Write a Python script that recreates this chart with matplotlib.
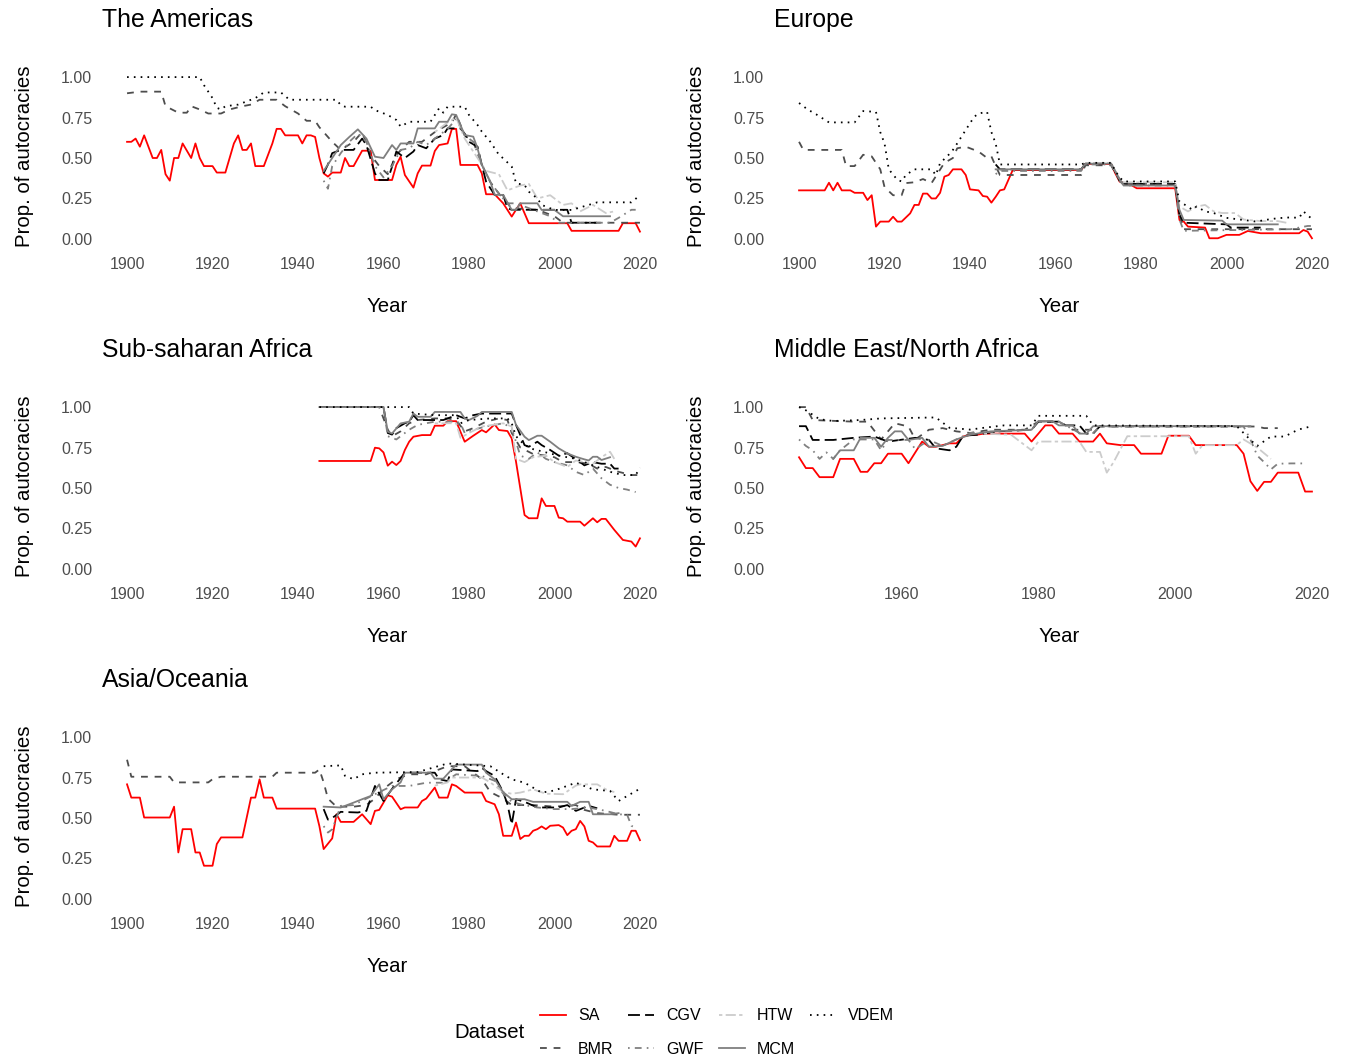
import matplotlib
matplotlib.use("Agg")
import matplotlib.pyplot as plt
from matplotlib.lines import Line2D

plt.rcParams['font.family'] = ['Liberation Sans', 'DejaVu Sans']
plt.rcParams['lines.scale_dashes'] = False

# ---------------- The Americas ----------------
am_sa_x = [1900, 1901, 1902, 1903, 1904, 1905, 1906, 1907, 1908, 1909, 1910, 1911, 1912, 1913, 1915, 1916, 1917, 1918,
           1920, 1921, 1923, 1925, 1926, 1927, 1928, 1929, 1930, 1932, 1934, 1935, 1936, 1937, 1940, 1941, 1942, 1943,
           1944, 1945, 1946, 1947, 1948, 1950, 1951, 1952, 1953, 1955, 1957, 1958, 1962, 1963, 1964, 1965, 1967, 1968,
           1969, 1971, 1972, 1973, 1975, 1976, 1977, 1978, 1982, 1983, 1984, 1986, 1988, 1990, 1991, 1992, 1994, 2003,
           2004, 2015, 2016, 2019, 2020]
am_sa_y = [.60, .60, .62, .57, .64, .57, .50, .50, .55, .40, .36, .50, .50, .59, .50, .59, .50, .45,
           .45, .41, .41, .59, .64, .55, .55, .59, .45, .45, .59, .68, .68, .64, .64, .59, .64, .64,
           .63, .50, .405, .385, .41, .41, .50, .45, .45, .545, .545, .364, .364, .457, .508, .395, .317, .405,
           .453, .453, .543, .58, .59, .68, .68, .457, .457, .405, .276, .276, .22, .138, .18, .22, .097, .097,
           .05, .05, .097, .097, .045]
am_bmr_x = [1900, 1903, 1908, 1909, 1912, 1914, 1915, 1917, 1919, 1922, 1924, 1927, 1929, 1931, 1935, 1937, 1940, 1942,
            1944, 1945, 1947, 1948, 1950, 1953, 1955, 1957, 1959, 1961, 1963, 1966, 1969, 1972, 1976, 1977, 1979,
            1981, 1983, 1985, 1987, 1990, 1996, 2000, 2002, 2020]
am_bmr_y = [.90, .91, .91, .82, .78, .78, .82, .80, .775, .775, .80, .82, .83, .86, .86, .82, .775, .73,
            .73, .69, .63, .60, .55, .60, .66, .52, .45, .40, .52, .60, .60, .66, .72, .77, .64,
            .60, .46, .35, .28, .19, .18, .14, .10, .10]
am_cgv_x = [1946, 1947, 1948, 1950, 1953, 1955, 1956, 1958, 1959, 1961, 1962, 1963, 1965, 1967, 1968, 1970, 1972, 1974,
            1975, 1978, 1979, 1980, 1982, 1983, 1984, 1986, 1988, 1989, 1990, 2003, 2004, 2010]
am_cgv_y = [.405, .46, .53, .55, .55, .62, .58, .405, .364, .364, .447, .54, .50, .54, .58, .56, .62, .642,
            .683, .683, .65, .60, .57, .457, .354, .272, .272, .19, .18, .18, .10, .10]
am_gwf_x = [1946, 1947, 1948, 1950, 1952, 1954, 1956, 1958, 1960, 1962, 1964, 1966, 1968, 1970, 1972, 1975, 1977, 1979,
            1981, 1983, 1985, 1987, 1989, 1991, 1995, 1999, 2001, 2013, 2015, 2018, 2019]
am_gwf_y = [.36, .31, .45, .53, .60, .65, .60, .45, .38, .45, .55, .56, .60, .58, .62, .68, .74, .64,
            .60, .46, .35, .28, .22, .22, .18, .14, .10, .10, .13, .18, .18]
am_htw_x = [1972, 1975, 1977, 1979, 1982, 1984, 1987, 1989, 1992, 1994, 1996, 1999, 2002, 2004, 2006, 2009, 2012, 2014]
am_htw_y = [.66, .72, .75, .62, .50, .42, .40, .30, .33, .34, .25, .27, .21, .22, .17, .21, .16, .17]
am_mcm_x = [1946, 1948, 1950, 1952, 1954, 1956, 1958, 1960, 1962, 1963, 1964, 1967, 1968, 1972, 1973, 1975, 1976, 1977,
            1979, 1981, 1982, 1983, 1985, 1986, 1988, 1990, 1991, 1992, 1996, 1997, 2000, 2002, 2013]
am_mcm_y = [.42, .50, .58, .63, .677, .62, .508, .50, .58, .55, .59, .59, .683, .683, .724, .724, .77, .766,
            .642, .632, .56, .457, .354, .272, .272, .179, .179, .22, .22, .179, .179, .14, .14]
am_vdem_x = [1900, 1917, 1918, 1920, 1921, 1922, 1923, 1926, 1930, 1932, 1936, 1938, 1949, 1950, 1951, 1957, 1958, 1961,
             1963, 1964, 1966, 1971, 1973, 1974, 1975, 1979, 1980, 1982, 1983, 1985, 1987, 1988, 1990, 1991, 1993,
             1994, 1996, 1997, 2000, 2004, 2008, 2010, 2018, 2020]
am_vdem_y = [1.0, 1.0, .95, .87, .81, .80, .82, .83, .87, .905, .905, .86, .86, .827, .817, .817, .796, .766,
             .735, .694, .724, .724, .807, .78, .817, .817, .766, .704, .663, .60, .52, .498, .447, .344, .333,
             .292, .25, .21, .179, .179, .21, .226, .226, .27]

# ---------------- Europe ----------------
eu_sa_x = [1900, 1906, 1907, 1908, 1909, 1910, 1912, 1913, 1915, 1916, 1917, 1918, 1919, 1921, 1922, 1923, 1924, 1926,
           1927, 1928, 1929, 1930, 1931, 1932, 1933, 1934, 1935, 1936, 1938, 1939, 1940, 1942, 1943, 1944, 1945, 1946,
           1947, 1948, 1950, 1966, 1967, 1973, 1974, 1975, 1976, 1977, 1979, 1988, 1989, 1990, 1991, 1995, 1996, 1998,
           2000, 2003, 2005, 2008, 2017, 2018, 2019, 2020]
eu_sa_y = [.30, .30, .347, .30, .347, .30, .30, .285, .285, .24, .27, .076, .107, .107, .137, .107, .107, .158,
           .21, .21, .28, .28, .25, .25, .285, .385, .395, .43, .43, .395, .306, .30, .265, .261, .224, .26,
           .30, .306, .426, .426, .463, .463, .405, .354, .344, .344, .313, .313, .117, .107, .076, .07, .004, .004,
           .025, .025, .049, .035, .035, .055, .045, .004]
eu_bmr_x = [1900, 1901, 1910, 1911, 1913, 1915, 1917, 1919, 1920, 1922, 1924, 1925, 1927, 1929, 1931, 1934, 1936, 1937,
            1939, 1942, 1944, 1945, 1946, 1947, 1966, 1967, 1973, 1975, 1976, 1988, 1989, 1990, 2020]
eu_bmr_y = [.60, .55, .55, .45, .45, .52, .51, .43, .32, .27, .27, .345, .35, .37, .345, .47, .50, .56,
            .57, .54, .50, .51, .45, .395, .395, .455, .455, .36, .34, .34, .15, .06, .06]
eu_cgv_x = [1946, 1947, 1966, 1967, 1973, 1975, 1976, 1988, 1989, 1990, 2000, 2001, 2008]
eu_cgv_y = [.46, .43, .43, .465, .465, .36, .34, .34, .15, .10, .09, .07, .07]
eu_gwf_x = [1946, 1947, 1966, 1967, 1973, 1975, 1976, 1988, 1989, 1990, 2015, 2019, 2020]
eu_gwf_y = [.40, .42, .42, .46, .46, .36, .33, .33, .12, .05, .06, .08, .08]
eu_htw_x = [1972, 1973, 1975, 1976, 1988, 1989, 1991, 1993, 1995, 1997, 1999, 2002, 2004, 2008, 2012, 2014]
eu_htw_y = [.47, .47, .37, .35, .35, .20, .17, .20, .21, .17, .16, .16, .12, .11, .11, .10]
eu_mcm_x = [1946, 1966, 1967, 1973, 1975, 1976, 1988, 1989, 1990, 1999, 2000, 2012]
eu_mcm_y = [.43, .43, .465, .465, .37, .33, .33, .18, .117, .113, .09, .09]
eu_vdem_x = [1900, 1902, 1904, 1907, 1913, 1915, 1918, 1919, 1920, 1921, 1923, 1924, 1925, 1927, 1931, 1932, 1933, 1935,
             1936, 1937, 1940, 1941, 1942, 1944, 1945, 1946, 1947, 1966, 1967, 1973, 1974, 1975, 1976, 1988, 1989,
             1991, 1992, 1993, 1995, 1997, 1998, 2000, 2004, 2007, 2009, 2012, 2015, 2017, 2018, 2020]
eu_vdem_y = [.84, .80, .77, .72, .72, .79, .785, .66, .59, .43, .365, .355, .395, .43, .43, .395, .468, .52,
             .55, .59, .715, .755, .775, .785, .66, .59, .46, .46, .47, .47, .42, .38, .355, .355, .23,
             .20, .18, .20, .17, .16, .15, .13, .117, .107, .117, .128, .133, .13, .17, .123]

# ---------------- Sub-saharan Africa ----------------
af_sa_x = [1945, 1957, 1958, 1959, 1960, 1961, 1962, 1963, 1964, 1965, 1966, 1967, 1969, 1971, 1972, 1974, 1975, 1977,
           1978, 1979, 1981, 1983, 1984, 1986, 1987, 1989, 1990, 1991, 1993, 1994, 1996, 1997, 1998, 2000, 2001, 2002,
           2003, 2006, 2007, 2009, 2010, 2011, 2012, 2014, 2016, 2018, 2019, 2020]
af_sa_y = [.667, .667, .749, .745, .72, .638, .663, .642, .667, .735, .786, .817, .827, .827, .885, .885, .913, .913,
           .848, .786, .823, .858, .844, .893, .858, .852, .806, .663, .333, .313, .313, .436, .389, .389, .317, .313,
           .292, .292, .267, .313, .288, .309, .309, .241, .179, .169, .138, .189]
af_bmr_x = [1945, 1959, 1961, 1962, 1964, 1966, 1968, 1972, 1975, 1977, 1979, 1981, 1984, 1987, 1989, 1990, 1992, 1995,
            1998, 2000, 2002, 2005, 2008, 2010, 2012, 2015, 2018, 2020]
af_bmr_y = [1.0, 1.0, .86, .82, .85, .90, .92, .93, .93, .92, .85, .87, .91, .93, .92, .84, .75, .71,
            .70, .69, .66, .66, .65, .62, .63, .60, .58, .58]
af_cgv_x = [1945, 1960, 1961, 1962, 1963, 1965, 1966, 1967, 1968, 1974, 1977, 1979, 1981, 1983, 1990, 1991, 1993, 1994,
            1996, 1997, 1999, 2001, 2003, 2006, 2007, 2009, 2011, 2013, 2014, 2015]
af_cgv_y = [1.0, 1.0, .84, .83, .87, .90, .91, .95, .92, .92, .95, .93, .95, .96, .96, .89, .765, .755,
            .786, .765, .735, .70, .715, .66, .64, .66, .65, .65, .62, .62]
af_gwf_x = [1945, 1960, 1961, 1963, 1966, 1968, 1972, 1976, 1978, 1979, 1981, 1984, 1988, 1990, 1992, 1994, 1996, 1998,
            2000, 2003, 2005, 2007, 2009, 2011, 2013, 2015, 2017, 2019]
af_gwf_y = [1.0, 1.0, .82, .80, .86, .89, .91, .91, .90, .84, .86, .88, .90, .87, .70, .68, .72, .68,
            .66, .64, .60, .58, .62, .56, .52, .50, .49, .475]
af_htw_x = [1972, 1977, 1978, 1980, 1983, 1988, 1990, 1991, 1993, 1995, 1998, 2000, 2003, 2005, 2009, 2011, 2013, 2014]
af_htw_y = [.90, .90, .81, .84, .88, .90, .88, .68, .66, .69, .70, .66, .63, .67, .65, .69, .724, .68]
af_mcm_x = [1945, 1960, 1961, 1962, 1964, 1966, 1967, 1968, 1971, 1972, 1978, 1979, 1980, 1982, 1983, 1990, 1991, 1993,
            1994, 1996, 1997, 1999, 2001, 2003, 2005, 2007, 2008, 2009, 2010, 2011, 2013]
af_mcm_y = [1.0, 1.0, .848, .837, .899, .91, .96, .94, .94, .97, .97, .93, .92, .946, .97, .97, .89, .817,
            .796, .823, .823, .786, .745, .714, .693, .677, .67, .693, .693, .673, .69]
af_vdem_x = [1945, 1966, 1967, 1972, 1977, 1978, 1980, 1985, 1989, 1990, 1991, 1993, 1995, 1998, 2001, 2005, 2009, 2013,
             2016, 2019, 2020]
af_vdem_y = [1.0, 1.0, .96, .95, .95, .90, .92, .93, .93, .90, .82, .765, .74, .72, .70, .68, .64, .60,
             .58, .58, .625]

# ---------------- Middle East/North Africa ----------------
me_sa_x = [1945, 1946, 1947, 1948, 1950, 1951, 1953, 1954, 1955, 1956, 1957, 1958, 1960, 1961, 1963, 1964, 1965, 1966,
           1967, 1968, 1969, 1970, 1971, 1972, 1978, 1979, 1980, 1981, 1982, 1983, 1985, 1986, 1988, 1989, 1990, 1992,
           1994, 1995, 1998, 1999, 2002, 2003, 2009, 2010, 2011, 2012, 2013, 2014, 2015, 2018, 2019, 2020]
me_sa_y = [.69, .623, .623, .567, .567, .68, .68, .60, .60, .653, .653, .712, .712, .653, .787, .755, .755, .765,
           .776, .776, .818, .829, .829, .836, .836, .787, .836, .887, .887, .836, .836, .787, .787, .836, .776, .765,
           .765, .712, .712, .823, .823, .765, .765, .712, .542, .482, .538, .538, .595, .595, .478, .478]
me_bmr_x = [1945, 1946, 1947, 1953, 1955, 1957, 1959, 1961, 1962, 1964, 1966, 1968, 1970, 1973, 1978, 1980, 1983, 1985,
            1988, 1989, 2012, 2013, 2015]
me_bmr_y = [1.0, 1.0, .92, .91, .91, .80, .90, .88, .80, .86, .87, .85, .84, .86, .86, .91, .91, .86,
            .86, .88, .88, .87, .87]
me_cgv_x = [1945, 1946, 1947, 1950, 1953, 1956, 1958, 1962, 1964, 1965, 1967, 1968, 1969, 1971, 1974, 1979, 1980, 1983,
            1984, 1986, 1987, 1988, 1989, 2008]
me_cgv_y = [.882, .882, .797, .797, .81, .818, .787, .81, .797, .745, .733, .755, .823, .829, .85, .86, .91, .91,
            .887, .887, .836, .836, .882, .882]
me_gwf_x = [1945, 1946, 1947, 1948, 1949, 1950, 1951, 1953, 1956, 1957, 1958, 1961, 1962, 1964, 1966, 1968, 1970, 1975,
            1979, 1980, 1983, 1986, 1988, 1989, 2010, 2011, 2012, 2013, 2014, 2015, 2017, 2019]
me_gwf_y = [.80, .76, .733, .68, .72, .68, .733, .80, .80, .733, .797, .797, .74, .797, .76, .80, .84, .85,
            .86, .91, .91, .84, .84, .88, .88, .80, .70, .66, .615, .65, .652, .652]
me_htw_x = [1972, 1976, 1979, 1980, 1986, 1987, 1989, 1990, 1991, 1993, 2002, 2003, 2004, 2009, 2010, 2012, 2014]
me_htw_y = [.836, .829, .733, .787, .787, .723, .723, .595, .66, .82, .82, .712, .765, .765, .80, .75, .68]
me_mcm_x = [1950, 1951, 1953, 1954, 1956, 1957, 1958, 1959, 1960, 1961, 1963, 1964, 1966, 1968, 1970, 1973, 1979, 1980,
            1982, 1983, 1985, 1986, 1987, 1988, 2011]
me_mcm_y = [.68, .733, .733, .81, .81, .755, .81, .85, .85, .797, .81, .755, .76, .80, .829, .85, .86, .914,
            .914, .887, .887, .836, .836, .882, .882]
me_vdem_x = [1945, 1946, 1948, 1950, 1954, 1957, 1965, 1966, 1967, 1970, 1972, 1975, 1979, 1980, 1987, 1988, 2009, 2010,
             2011, 2012, 2014, 2016, 2018, 2020]
me_vdem_y = [1.0, .98, .925, .914, .92, .93, .936, .904, .872, .861, .872, .887, .887, .946, .946, .887, .882, .84,
             .797, .76, .818, .818, .861, .882]

# ---------------- Asia/Oceania ----------------
as_sa_x = [1900, 1901, 1903, 1904, 1910, 1911, 1912, 1913, 1915, 1916, 1917, 1918, 1920, 1921, 1922, 1927, 1929, 1930,
           1931, 1932, 1934, 1935, 1944, 1945, 1946, 1948, 1949, 1950, 1953, 1955, 1957, 1958, 1959, 1961, 1962, 1964,
           1965, 1968, 1969, 1970, 1972, 1973, 1975, 1976, 1977, 1979, 1983, 1984, 1986, 1987, 1988, 1990, 1991, 1992,
           1993, 1994, 1995, 1996, 1997, 1998, 1999, 2001, 2002, 2003, 2004, 2005, 2006, 2007, 2008, 2009, 2010, 2013,
           2014, 2015, 2017, 2018, 2019, 2020]
as_sa_y = [.708, .626, .626, .503, .503, .57, .287, .431, .431, .287, .287, .205, .205, .339, .38, .38, .626, .626,
           .739, .626, .626, .558, .558, .45, .308, .374, .523, .476, .476, .523, .462, .544, .55, .64, .632, .554,
           .565, .565, .605, .62, .688, .626, .626, .708, .698, .657, .657, .605, .585, .523, .39, .39, .472, .37,
           .39, .39, .421, .431, .448, .431, .452, .456, .441, .394, .421, .431, .482, .448, .359, .349, .324, .324,
           .39, .359, .359, .421, .421, .363]
as_bmr_x = [1900, 1901, 1910, 1911, 1919, 1920, 1922, 1934, 1935, 1944, 1945, 1946, 1947, 1949, 1953, 1956, 1958, 1960,
            1963, 1966, 1970, 1975, 1979, 1981, 1983, 1985, 1988, 1990, 1995, 2000, 2005, 2007, 2010, 2015, 2020]
as_bmr_y = [.86, .755, .755, .72, .72, .74, .755, .755, .78, .78, .80, .72, .62, .57, .57, .58, .62, .68,
            .74, .77, .77, .82, .82, .78, .74, .66, .62, .58, .58, .57, .58, .55, .53, .52, .52]
as_cgv_x = [1946, 1947, 1948, 1950, 1954, 1956, 1958, 1960, 1962, 1965, 1972, 1973, 1975, 1976, 1982, 1983, 1984, 1986,
            1988, 1989, 1990, 1991, 1993, 1996, 2001, 2003, 2005, 2008, 2010]
as_cgv_y = [.555, .49, .50, .538, .534, .544, .698, .605, .68, .78, .78, .74, .728, .80, .79, .81, .79, .76,
            .66, .585, .46, .616, .60, .565, .565, .58, .544, .575, .56]
as_gwf_x = [1946, 1947, 1948, 1950, 1953, 1956, 1959, 1962, 1966, 1970, 1974, 1977, 1983, 1986, 1988, 1990, 1992, 1996,
            2000, 2004, 2008, 2012, 2015, 2017, 2018, 2019]
as_gwf_y = [.45, .41, .43, .575, .58, .62, .66, .698, .698, .718, .718, .77, .76, .73, .65, .60, .585, .565,
            .555, .555, .565, .544, .523, .52, .452, .44]
as_htw_x = [1972, 1975, 1976, 1983, 1985, 1988, 1990, 1992, 1995, 1998, 2002, 2005, 2006, 2010, 2012, 2014]
as_htw_y = [.70, .72, .75, .75, .72, .66, .65, .657, .677, .65, .647, .70, .708, .708, .677, .66]
as_mcm_x = [1946, 1950, 1953, 1955, 1957, 1959, 1960, 1962, 1964, 1965, 1971, 1972, 1974, 1977, 1983, 1984, 1986, 1988,
            1990, 1993, 1995, 2003, 2004, 2006, 2008, 2009, 2013, 2015]
as_mcm_y = [.57, .565, .595, .616, .636, .708, .616, .677, .72, .78, .78, .743, .743, .83, .83, .78, .74, .66,
            .616, .616, .60, .60, .575, .60, .60, .523, .523, .53]
as_vdem_x = [1946, 1950, 1951, 1953, 1955, 1958, 1968, 1975, 1985, 1988, 1990, 1993, 1997, 2000, 2005, 2009, 2013, 2015,
             2017, 2020]
as_vdem_y = [.82, .825, .76, .74, .77, .78, .784, .837, .82, .77, .739, .718, .657, .67, .718, .677, .667, .605,
             .636, .681]

datasets = ['SA', 'BMR', 'CGV', 'GWF', 'HTW', 'MCM', 'VDEM']
colors = ['#ff0000', '#4d4d4d', '#000000', '#808080', '#cccccc', '#7f7f7f', '#000000']
dashes = ['-', (0, (4.9, 4.9)), (0, (8.6, 3.7)), (0, (1.2, 3.7, 4.9, 3.7)),
          (0, (2.4, 2.4, 7.3, 2.4)), '-', (0, (1.2, 3.7))]
LW = 1.3

panels = [
    ('The Americas', [(am_sa_x, am_sa_y), (am_bmr_x, am_bmr_y), (am_cgv_x, am_cgv_y), (am_gwf_x, am_gwf_y),
                      (am_htw_x, am_htw_y), (am_mcm_x, am_mcm_y), (am_vdem_x, am_vdem_y)]),
    ('Europe', [(eu_sa_x, eu_sa_y), (eu_bmr_x, eu_bmr_y), (eu_cgv_x, eu_cgv_y), (eu_gwf_x, eu_gwf_y),
                (eu_htw_x, eu_htw_y), (eu_mcm_x, eu_mcm_y), (eu_vdem_x, eu_vdem_y)]),
    ('Sub-saharan Africa', [(af_sa_x, af_sa_y), (af_bmr_x, af_bmr_y), (af_cgv_x, af_cgv_y), (af_gwf_x, af_gwf_y),
                            (af_htw_x, af_htw_y), (af_mcm_x, af_mcm_y), (af_vdem_x, af_vdem_y)]),
    ('Middle East/North Africa', [(me_sa_x, me_sa_y), (me_bmr_x, me_bmr_y), (me_cgv_x, me_cgv_y),
                                  (me_gwf_x, me_gwf_y), (me_htw_x, me_htw_y), (me_mcm_x, me_mcm_y),
                                  (me_vdem_x, me_vdem_y)]),
    ('Asia/Oceania', [(as_sa_x, as_sa_y), (as_bmr_x, as_bmr_y), (as_cgv_x, as_cgv_y), (as_gwf_x, as_gwf_y),
                      (as_htw_x, as_htw_y), (as_mcm_x, as_mcm_y), (as_vdem_x, as_vdem_y)]),
]

W, H = 1348, 1059
fig = plt.figure(figsize=(W / 100, H / 100), dpi=100)

col_x = [(101.4, 665.6), (773.4, 1337.6)]
row_y = [(69, 247), (399, 577), (729, 907)]

for i, (title, series) in enumerate(panels):
    r, c = divmod(i, 2)
    x0, x1 = col_x[c]
    y0, y1 = row_y[r]
    ax = fig.add_axes([x0 / W, 1 - y1 / H, (x1 - x0) / W, (y1 - y0) / H])
    for (xs, ys), col, ls in zip(series, colors, dashes):
        ax.plot(xs, ys, color=col, linestyle=ls, linewidth=LW)
    if title.startswith('Middle East'):
        ax.set_xlim(1941.25, 2023.75)
        ax.set_xticks([1960, 1980, 2000, 2020])
    else:
        ax.set_xlim(1894, 2026)
        ax.set_xticks([1900, 1920, 1940, 1960, 1980, 2000, 2020])
    ax.set_ylim(-0.05, 1.05)
    ax.set_yticks([0, 0.25, 0.5, 0.75, 1.0])
    ax.set_yticklabels(['0.00', '0.25', '0.50', '0.75', '1.00'])
    for s in ax.spines.values():
        s.set_visible(False)
    ax.tick_params(length=0, labelsize=11.5, labelcolor='#4d4d4d')
    ax.tick_params(axis='y', pad=6.5)
    ax.tick_params(axis='x', pad=7)
    ax.annotate(title, xy=(0, 1), xycoords='axes fraction', xytext=(0.5, 35),
                textcoords='offset points', fontsize=17.8, ha='left', va='center')
    ax.annotate('Year', xy=(0.5, 0), xycoords='axes fraction', xytext=(2.5, -43.2),
                textcoords='offset points', fontsize=14.7, ha='center', va='center')
    ax.annotate('Prop. of autocracies', xy=(0, 0.5), xycoords='axes fraction', xytext=(-55.5, 1.5),
                textcoords='offset points', fontsize=14.7, ha='center', va='center', rotation=90)

handles = [Line2D([], [], color=col, linestyle=ls, linewidth=LW) for col, ls in zip(colors, dashes)]
fig.legend(handles, datasets, ncol=4, loc='center left', bbox_to_anchor=(540 / W, 1 - 1032.5 / H),
           frameon=False, fontsize=11.5, handlelength=1.63, handletextpad=0.75, columnspacing=0.93,
           labelspacing=1.13, borderpad=0, borderaxespad=0)
fig.text(490 / W, 1 - 1032 / H, 'Dataset', fontsize=14.7, ha='center', va='center')

fig.savefig('out.png', dpi=100)
